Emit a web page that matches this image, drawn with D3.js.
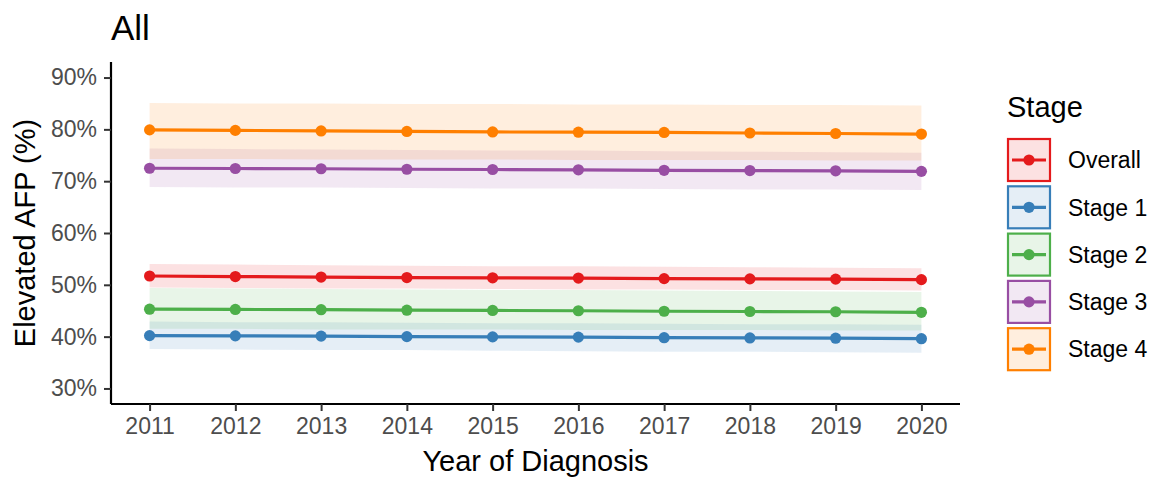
<!DOCTYPE html>
<html>
<head>
<meta charset="utf-8">
<script src="https://cdn.jsdelivr.net/npm/d3@7"></script>
<style>
  body { margin: 0; background: #fff; }
  svg { display: block; font-family: "Liberation Sans", Arial, Helvetica, sans-serif; }
</style>
</head>
<body>
<svg id="chart" width="1158" height="477"></svg>
<script>
// ---- Data ----
const years = [2011, 2012, 2013, 2014, 2015, 2016, 2017, 2018, 2019, 2020];
const stages = ["Overall", "Stage 1", "Stage 2", "Stage 3", "Stage 4"];
const colors = ["#E41A1C", "#377EB8", "#4DAF4A", "#984EA3", "#FF7F00"];
const yTicks = [30, 40, 50, 60, 70, 80, 90];

const overallEst = [51.7, 51.6, 51.5, 51.4, 51.35, 51.3, 51.2, 51.15, 51.1, 51.0];
const overallLow = [49.5, 49.4, 49.3, 49.3, 49.2, 49.1, 49.1, 49.0, 49.0, 48.9];
const overallHigh = [54.0, 53.9, 53.8, 53.7, 53.6, 53.6, 53.5, 53.4, 53.3, 53.2];

const stage1Est = [40.2, 40.15, 40.1, 40.0, 39.95, 39.9, 39.8, 39.75, 39.7, 39.6];
const stage1Low = [37.6, 37.5, 37.4, 37.4, 37.3, 37.2, 37.1, 37.1, 37.0, 36.9];
const stage1High = [42.9, 42.8, 42.8, 42.7, 42.6, 42.6, 42.5, 42.4, 42.4, 42.3];

const stage2Est = [45.3, 45.25, 45.2, 45.1, 45.05, 45.0, 44.9, 44.85, 44.8, 44.7];
const stage2Low = [41.5, 41.5, 41.4, 41.4, 41.4, 41.3, 41.3, 41.3, 41.2, 41.2];
const stage2High = [49.4, 49.3, 49.2, 49.1, 49.0, 49.0, 48.9, 48.8, 48.7, 48.6];

const stage3Est = [72.5, 72.45, 72.4, 72.3, 72.25, 72.2, 72.1, 72.05, 72.0, 71.9];
const stage3Low = [68.9, 68.8, 68.8, 68.7, 68.6, 68.6, 68.5, 68.4, 68.4, 68.3];
const stage3High = [76.3, 76.2, 76.1, 76.0, 75.9, 75.9, 75.8, 75.7, 75.6, 75.5];

const stage4Est = [79.9, 79.8, 79.7, 79.6, 79.5, 79.45, 79.4, 79.3, 79.2, 79.1];
const stage4Low = [74.3, 74.3, 74.2, 74.2, 74.2, 74.1, 74.1, 74.1, 74.0, 74.0];
const stage4High = [85.1, 85.0, 85.0, 84.9, 84.9, 84.8, 84.8, 84.7, 84.7, 84.6];

const series = [
  { name: stages[0], color: colors[0], est: overallEst, low: overallLow, high: overallHigh },
  { name: stages[1], color: colors[1], est: stage1Est, low: stage1Low, high: stage1High },
  { name: stages[2], color: colors[2], est: stage2Est, low: stage2Low, high: stage2High },
  { name: stages[3], color: colors[3], est: stage3Est, low: stage3Low, high: stage3High },
  { name: stages[4], color: colors[4], est: stage4Est, low: stage4Low, high: stage4High }
];

// ---- Layout ----
const svg = d3.select("#chart");
const panel = { left: 111, right: 960, top: 62, bottom: 404 };

const x = d3.scaleLinear().domain([2011 - 0.45, 2020 + 0.45]).range([panel.left, panel.right]);
const y = d3.scaleLinear().domain([27, 93]).range([panel.bottom, panel.top]);

const ribbonOpacity = 0.13;

// Ribbons
const area = d3.area()
  .x((d, i) => x(years[i]))
  .y0(d => y(d[0]))
  .y1(d => y(d[1]));

const gRib = svg.append("g");
series.forEach(s => {
  const pts = s.low.map((l, i) => [l, s.high[i]]);
  gRib.append("path")
    .attr("d", area(pts))
    .attr("fill", s.color)
    .attr("fill-opacity", ribbonOpacity);
});

// Lines
const line = d3.line().x((d, i) => x(years[i])).y(d => y(d));
const gLines = svg.append("g");
series.forEach(s => {
  gLines.append("path")
    .attr("d", line(s.est))
    .attr("fill", "none")
    .attr("stroke", s.color)
    .attr("stroke-width", 3.2);
});
// Points
series.forEach(s => {
  gLines.selectAll(null).data(s.est).enter().append("circle")
    .attr("cx", (d, i) => x(years[i]))
    .attr("cy", d => y(d))
    .attr("r", 5.6)
    .attr("fill", s.color);
});

// Axes
const xAxis = d3.axisBottom(x).tickValues(years).tickFormat(d3.format("d")).tickSize(7).tickPadding(7);
const gx = svg.append("g").attr("transform", `translate(0,${panel.bottom})`).call(xAxis);
gx.select(".domain").attr("stroke", "#000").attr("stroke-width", 2.2).attr("d", `M${panel.left},0H${panel.right}`);
gx.selectAll(".tick line").attr("stroke", "#333").attr("stroke-width", 2);
gx.selectAll(".tick text").attr("fill", "#4D4D4D").style("font-size", "23px")
  .style("font-family", "Liberation Sans, Arial, sans-serif");

const yAxis = d3.axisLeft(y).tickValues(yTicks).tickFormat(d => d + "%").tickSize(7).tickPadding(7);
const gy = svg.append("g").attr("transform", `translate(${panel.left},0)`).call(yAxis);
gy.select(".domain").attr("stroke", "#000").attr("stroke-width", 2.2).attr("d", `M0,${panel.top}V${panel.bottom}`);
gy.selectAll(".tick line").attr("stroke", "#333").attr("stroke-width", 2);
gy.selectAll(".tick text").attr("fill", "#4D4D4D").style("font-size", "23px")
  .style("font-family", "Liberation Sans, Arial, sans-serif");

// Titles
svg.append("text").attr("x", 111).attr("y", 40).text("All")
  .style("font-size", "35px").attr("fill", "#000");

svg.append("text").attr("x", (panel.left + panel.right) / 2).attr("y", 471)
  .attr("text-anchor", "middle").style("font-size", "29px").attr("fill", "#000")
  .text("Year of Diagnosis");

svg.append("text")
  .attr("transform", `translate(35,${(panel.top + panel.bottom) / 2}) rotate(-90)`)
  .attr("text-anchor", "middle").style("font-size", "29px").attr("fill", "#000")
  .text("Elevated AFP (%)");

// Legend
const leg = svg.append("g").attr("transform", "translate(1007,0)");
leg.append("text").attr("x", 0).attr("y", 117).style("font-size", "29px").attr("fill", "#000").text("Stage");
const keyTop = 138, keyStep = 47.3, keySize = 44;
series.forEach((s, i) => {
  const g = leg.append("g").attr("transform", `translate(0,${keyTop + i * keyStep})`);
  g.append("rect").attr("x", 1).attr("y", 1).attr("width", keySize - 2).attr("height", keySize - 2)
    .attr("fill", s.color).attr("fill-opacity", ribbonOpacity)
    .attr("stroke", s.color).attr("stroke-width", 2.2);
  g.append("line").attr("x1", 5).attr("x2", keySize - 5).attr("y1", keySize / 2).attr("y2", keySize / 2)
    .attr("stroke", s.color).attr("stroke-width", 3.2);
  g.append("circle").attr("cx", keySize / 2).attr("cy", keySize / 2).attr("r", 5.6).attr("fill", s.color);
  g.append("text").attr("x", 61).attr("y", keySize / 2).attr("dy", "0.36em")
    .style("font-size", "23px").attr("fill", "#000").text(s.name);
});
</script>
</body>
</html>
